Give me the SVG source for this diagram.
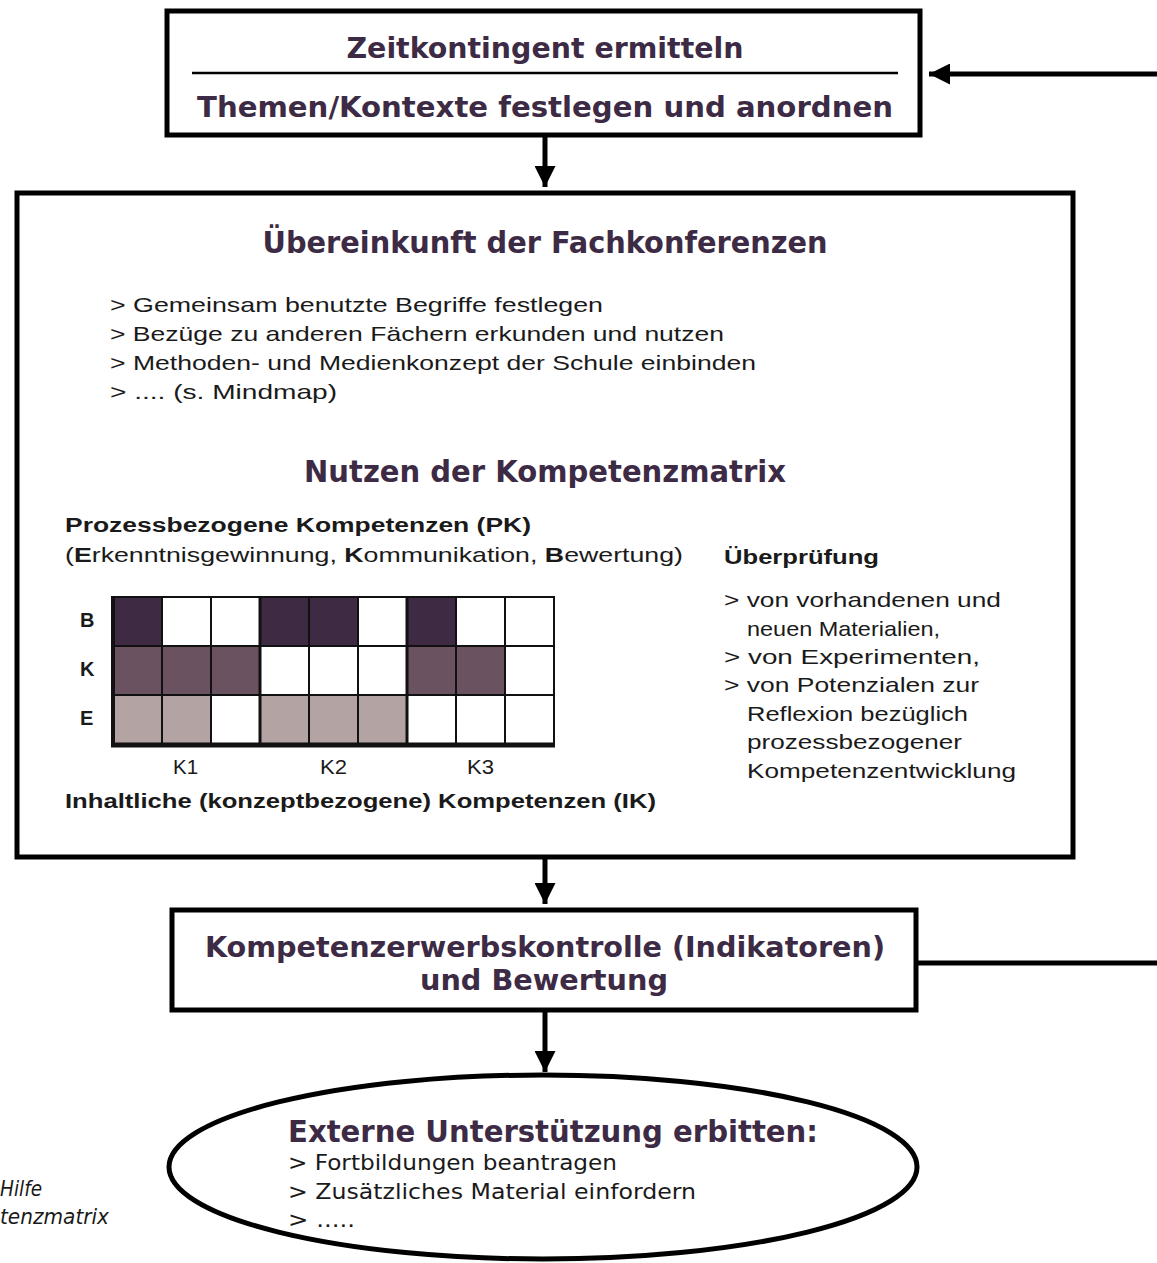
<svg xmlns="http://www.w3.org/2000/svg" width="1157" height="1263" viewBox="0 0 1157 1263">
<style>
.h{font-family:'Liberation Sans Narrow','DejaVu Sans Condensed','DejaVu Sans',sans-serif;font-weight:bold;fill:#3d2b45}
.b{font-family:'Liberation Sans','DejaVu Sans',sans-serif;fill:#1a1a1a;font-size:21px}
.n{font-family:'Liberation Sans Narrow','DejaVu Sans Condensed','DejaVu Sans',sans-serif;fill:#1a1a1a;font-size:21px}
.bb{font-family:'Liberation Sans','DejaVu Sans',sans-serif;fill:#1a1a1a;font-weight:bold;font-size:20px}
.box{fill:#fff;stroke:#000;stroke-width:5}
.ln{stroke:#000;stroke-width:5;fill:none}
.c{stroke:#111;stroke-width:2}
.d{fill:#3f2a44}.m{fill:#6a5260}.l{fill:#b3a3a3}.w{fill:#fff}
</style>
<defs>
<marker id="ah" viewBox="0 0 10 10" refX="10" refY="5" markerWidth="6" markerHeight="4.2" markerUnits="strokeWidth" orient="auto">
<path d="M0,0 L10,5 L0,10 Z" fill="#000"/>
</marker>
</defs>
<rect width="1157" height="1263" fill="#fff"/>
<g id="connectors">
<line class="ln" x1="1157" y1="74" x2="929" y2="74" marker-end="url(#ah)"/>
<line class="ln" x1="545" y1="137" x2="545" y2="187" marker-end="url(#ah)"/>
<line class="ln" x1="545" y1="859" x2="545" y2="904" marker-end="url(#ah)"/>
<line class="ln" x1="918" y1="963" x2="1157" y2="963"/>
<line class="ln" x1="545" y1="1012" x2="545" y2="1072" marker-end="url(#ah)"/>
</g>
<g id="top">
<rect class="box" x="167" y="11" width="753" height="124"/>
<line x1="192" y1="73" x2="898" y2="73" stroke="#000" stroke-width="2.5"/>
<text class="h" x="545" y="58" font-size="28" text-anchor="middle" textLength="397" lengthAdjust="spacingAndGlyphs">Zeitkontingent ermitteln</text>
<text class="h" x="545" y="117" font-size="28" text-anchor="middle" textLength="696" lengthAdjust="spacingAndGlyphs">Themen/Kontexte festlegen und anordnen</text>
</g>
<g id="main">
<rect class="box" x="17" y="193" width="1056" height="664"/>
<text class="h" x="545" y="253" font-size="30" text-anchor="middle" textLength="565" lengthAdjust="spacingAndGlyphs">Übereinkunft der Fachkonferenzen</text>
<text class="b" x="110" y="312" textLength="493" lengthAdjust="spacingAndGlyphs">&gt; Gemeinsam benutzte Begriffe festlegen</text>
<text class="b" x="110" y="341" textLength="614" lengthAdjust="spacingAndGlyphs">&gt; Bezüge zu anderen Fächern erkunden und nutzen</text>
<text class="b" x="110" y="370" textLength="646" lengthAdjust="spacingAndGlyphs">&gt; Methoden- und Medienkonzept der Schule einbinden</text>
<text class="b" x="110" y="399" textLength="227" lengthAdjust="spacingAndGlyphs">&gt; .... (s. Mindmap)</text>
<text class="h" x="545" y="482" font-size="30" text-anchor="middle" textLength="482" lengthAdjust="spacingAndGlyphs">Nutzen der Kompetenzmatrix</text>
<text class="bb" x="65" y="532" textLength="466" lengthAdjust="spacingAndGlyphs">Prozessbezogene Kompetenzen (PK)</text>
<text class="b" x="65" y="562" textLength="618" lengthAdjust="spacingAndGlyphs">(<tspan font-weight="bold">E</tspan>rkenntnisgewinnung, <tspan font-weight="bold">K</tspan>ommunikation, <tspan font-weight="bold">B</tspan>ewertung)</text>
<text class="bb" x="724" y="564" textLength="155" lengthAdjust="spacingAndGlyphs">Überprüfung</text>
<text class="b" x="724" y="607" textLength="277" lengthAdjust="spacingAndGlyphs">&gt; von vorhandenen und</text>
<text class="b" x="747" y="636" textLength="193" lengthAdjust="spacingAndGlyphs">neuen Materialien,</text>
<text class="b" x="724" y="664" textLength="256" lengthAdjust="spacingAndGlyphs">&gt; von Experimenten,</text>
<text class="b" x="724" y="692" textLength="255" lengthAdjust="spacingAndGlyphs">&gt; von Potenzialen zur</text>
<text class="b" x="747" y="721" textLength="221" lengthAdjust="spacingAndGlyphs">Reflexion bezüglich</text>
<text class="b" x="747" y="749" textLength="215" lengthAdjust="spacingAndGlyphs">prozessbezogener</text>
<text class="b" x="747" y="778" textLength="269" lengthAdjust="spacingAndGlyphs">Kompetenzentwicklung</text>
<g id="matrix">
<rect class="c d" x="113" y="597" width="49" height="49"/>
<rect class="c w" x="162" y="597" width="49" height="49"/>
<rect class="c w" x="211" y="597" width="49" height="49"/>
<rect class="c d" x="260" y="597" width="49" height="49"/>
<rect class="c d" x="309" y="597" width="49" height="49"/>
<rect class="c w" x="358" y="597" width="49" height="49"/>
<rect class="c d" x="407" y="597" width="49" height="49"/>
<rect class="c w" x="456" y="597" width="49" height="49"/>
<rect class="c w" x="505" y="597" width="49" height="49"/>
<rect class="c m" x="113" y="646" width="49" height="49"/>
<rect class="c m" x="162" y="646" width="49" height="49"/>
<rect class="c m" x="211" y="646" width="49" height="49"/>
<rect class="c w" x="260" y="646" width="49" height="49"/>
<rect class="c w" x="309" y="646" width="49" height="49"/>
<rect class="c w" x="358" y="646" width="49" height="49"/>
<rect class="c m" x="407" y="646" width="49" height="49"/>
<rect class="c m" x="456" y="646" width="49" height="49"/>
<rect class="c w" x="505" y="646" width="49" height="49"/>
<rect class="c l" x="113" y="695" width="49" height="49"/>
<rect class="c l" x="162" y="695" width="49" height="49"/>
<rect class="c w" x="211" y="695" width="49" height="49"/>
<rect class="c l" x="260" y="695" width="49" height="49"/>
<rect class="c l" x="309" y="695" width="49" height="49"/>
<rect class="c l" x="358" y="695" width="49" height="49"/>
<rect class="c w" x="407" y="695" width="49" height="49"/>
<rect class="c w" x="456" y="695" width="49" height="49"/>
<rect class="c w" x="505" y="695" width="49" height="49"/>
<line x1="113" y1="596" x2="113" y2="747" stroke="#111" stroke-width="4"/>
<line x1="260" y1="596" x2="260" y2="747" stroke="#111" stroke-width="3"/>
<line x1="407" y1="596" x2="407" y2="747" stroke="#111" stroke-width="3"/>
<line x1="111" y1="745" x2="555" y2="745" stroke="#111" stroke-width="5"/>
<text class="bb" x="80" y="627" font-size="19">B</text>
<text class="bb" x="80" y="676" font-size="19">K</text>
<text class="bb" x="80" y="725" font-size="19">E</text>
<text class="b" x="173" y="774" font-size="19" textLength="25" lengthAdjust="spacingAndGlyphs">K1</text>
<text class="b" x="320" y="774" font-size="19" textLength="27" lengthAdjust="spacingAndGlyphs">K2</text>
<text class="b" x="467" y="774" font-size="19" textLength="27" lengthAdjust="spacingAndGlyphs">K3</text>
</g>
<text class="bb" x="65" y="808" textLength="591" lengthAdjust="spacingAndGlyphs">Inhaltliche (konzeptbezogene) Kompetenzen (IK)</text>
</g>
<g id="control">
<rect class="box" x="172" y="910" width="744" height="100"/>
<text class="h" x="545" y="957" font-size="28" text-anchor="middle" textLength="680" lengthAdjust="spacingAndGlyphs">Kompetenzerwerbskontrolle (Indikatoren)</text>
<text class="h" x="544" y="990" font-size="28" text-anchor="middle" textLength="248" lengthAdjust="spacingAndGlyphs">und Bewertung</text>
</g>
<g id="extern">
<ellipse cx="543" cy="1167" rx="374" ry="92" fill="#fff" stroke="#000" stroke-width="5"/>
<text class="h" x="288" y="1142" font-size="30" textLength="530" lengthAdjust="spacingAndGlyphs">Externe Unterstützung erbitten:</text>
<text class="n" x="288" y="1170" textLength="329" lengthAdjust="spacingAndGlyphs">&gt; Fortbildungen beantragen</text>
<text class="n" x="288" y="1199" textLength="408" lengthAdjust="spacingAndGlyphs">&gt; Zusätzliches Material einfordern</text>
<text class="n" x="288" y="1227" textLength="67" lengthAdjust="spacingAndGlyphs">&gt; .....</text>
</g>
<g id="note">
<text class="n" x="0" y="1196" font-size="16" font-style="italic" textLength="42" lengthAdjust="spacingAndGlyphs">Hilfe</text>
<text class="n" x="0" y="1224" font-size="16" font-style="italic" textLength="109" lengthAdjust="spacingAndGlyphs">tenzmatrix</text>
</g>
</svg>
